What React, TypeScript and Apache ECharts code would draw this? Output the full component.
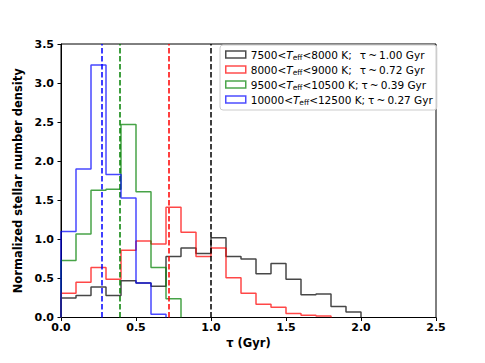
import React, { useEffect, useRef } from "react";
import * as echarts from "echarts";

// ---- data ----
const binWidth = 0.1; // Gyr
const blackHist = [0.25, 0.28, 0.39, 0.28, 0.47, 0.44, 0.40, 0.78, 0.89, 0.82, 1.02, 0.78, 0.75, 0.56, 0.69, 0.49, 0.29, 0.30, 0.14, 0.07];
const redHist = [0.31, 0.45, 0.64, 0.49, 0.86, 0.98, 0.94, 1.41, 1.09, 0.78, 0.89, 0.51, 0.31, 0.17, 0.13, 0.05, 0.03, 0.02];
const greenHist = [0.73, 1.07, 1.63, 1.64, 2.47, 1.61, 0.64, 0.24];
const blueHist = [1.10, 1.90, 3.23, 1.83, 1.53, 0.44, 0.04];
const teffLow = [7500, 8000, 9500, 10000];
const teffHigh = [8000, 9000, 10500, 12500];
const medianAge = [1.0, 0.72, 0.39, 0.27];
const xTicks = [0, 0.5, 1.0, 1.5, 2.0, 2.5];
const yTicks = [0, 0.5, 1.0, 1.5, 2.0, 2.5, 3.0, 3.5];

const hists = [blackHist, redHist, greenHist, blueHist];
const colors = ["#000000", "#ff0000", "#008000", "#0000ff"];
const handleColors = ["rgba(0,0,0,0.7)", "rgba(255,0,0,0.7)", "rgba(0,128,0,0.7)", "rgba(0,0,255,0.7)"];
const FONT = "DejaVu Sans";

function stepData(vals: number[]) {
  const pts: number[][] = [[0, 0]];
  vals.forEach((v, i) => pts.push([+(i * binWidth).toFixed(3), v]));
  pts.push([+(vals.length * binWidth).toFixed(3), 0]);
  return pts;
}

function measure(text: string, font: string) {
  const ctx = document.createElement("canvas").getContext("2d");
  if (!ctx) return text.length * 6;
  ctx.font = font;
  return ctx.measureText(text).width;
}

export default function App() {
  const ref = useRef<HTMLDivElement>(null);
  useEffect(() => {
    if (!ref.current) return;
    const chart = echarts.init(ref.current, null, { renderer: "svg" });
    const names = teffLow.map((lo, i) => `${lo}-${teffHigh[i]}`);
    const col = 109;
    const rich: any = {
      a: { fontFamily: FONT, fontSize: 10.5, color: "#000", lineHeight: 13 },
      i: { fontFamily: FONT, fontSize: 10.5, fontStyle: "italic", color: "#000", lineHeight: 13 },
      s: { fontFamily: FONT, fontSize: 7.5, color: "#000", lineHeight: 8, verticalAlign: "bottom" },
    };
    teffLow.forEach((lo, i) => {
      const w =
        measure(`${lo}<`, `10.5px "${FONT}"`) +
        measure("T", `italic 10.5px "${FONT}"`) +
        measure("eff", `7.5px "${FONT}"`) +
        measure(`<${teffHigh[i]} K;`, `10.5px "${FONT}"`);
      rich["sp" + i] = { width: Math.max(3, col - w), lineHeight: 13 };
    });

    const series: any[] = hists.map((h, i) => ({
      type: "line",
      name: names[i],
      data: stepData(h),
      step: "end",
      showSymbol: false,
      symbol: "none",
      color: colors[i],
      lineStyle: { color: colors[i], width: 1.5, opacity: 0.72 },
      markLine: {
        silent: true,
        symbol: "none",
        label: { show: false },
        lineStyle: { color: colors[i], type: [5.5, 2.5], width: 1.5, opacity: 1 },
        data: [{ xAxis: medianAge[i] }],
      },
      z: 2 + i,
    }));

    chart.setOption({
      animation: false,
      grid: { left: 61, right: 49, top: 44, bottom: 45.5, show: true, borderColor: "#000", borderWidth: 1, backgroundColor: "transparent" },
      xAxis: {
        type: "value",
        min: xTicks[0],
        max: xTicks[xTicks.length - 1],
        interval: 0.5,
        name: "τ (Gyr)",
        nameLocation: "middle",
        nameGap: 18,
        nameTextStyle: { fontFamily: FONT, fontSize: 11.5, fontWeight: "bold", color: "#000" },
        axisLine: { lineStyle: { color: "#000", width: 1 } },
        axisTick: { inside: false, length: 3.5, lineStyle: { color: "#000" } },
        axisLabel: { margin: 4, fontFamily: FONT, fontSize: 11, fontWeight: "bold", color: "#000", formatter: (v: number) => v.toFixed(1) },
        splitLine: { show: false },
      },
      yAxis: {
        type: "value",
        min: yTicks[0],
        max: yTicks[yTicks.length - 1],
        interval: 0.5,
        name: "Normalized stellar number density",
        nameLocation: "middle",
        nameGap: 31,
        nameTextStyle: { fontFamily: FONT, fontSize: 11.5, fontWeight: "bold", color: "#000" },
        axisLine: { show: true, lineStyle: { color: "#000", width: 1 } },
        axisTick: { show: true, inside: false, length: 3.5, lineStyle: { color: "#000" } },
        axisLabel: { margin: 7, fontFamily: FONT, fontSize: 11, fontWeight: "bold", color: "#000", formatter: (v: number) => v.toFixed(1) },
        splitLine: { show: false },
      },
      legend: {
        orient: "vertical",
        left: 220,
        top: 45,
        padding: [4, 4, 4, 5],
        itemGap: 3,
        itemWidth: 20,
        itemHeight: 7,
        backgroundColor: "rgba(255,255,255,0.8)",
        borderColor: "#cccccc",
        borderWidth: 1,
        borderRadius: 3,
        icon: "rect",
        data: names.map((n, i) => ({
          name: n,
          icon: "rect",
          itemStyle: { color: "transparent", borderColor: handleColors[i], borderWidth: 1.5 },
        })),
        formatter: (name: string) => {
          const i = names.indexOf(name);
          return `{a|${teffLow[i]}<}{i|T}{s|eff}{a|<${teffHigh[i]} K;}{sp${i}|}{a|τ\u2009~\u2009${medianAge[i].toFixed(2)} Gyr}`;
        },
        textStyle: { fontFamily: FONT, fontSize: 10.5, color: "#000", rich },
      },
      series,
    });
    return () => chart.dispose();
  }, []);
  return <div ref={ref} style={{ position: "fixed", left: 0, top: 0, width: 485, height: 363, background: "#fff" }} />;
}
